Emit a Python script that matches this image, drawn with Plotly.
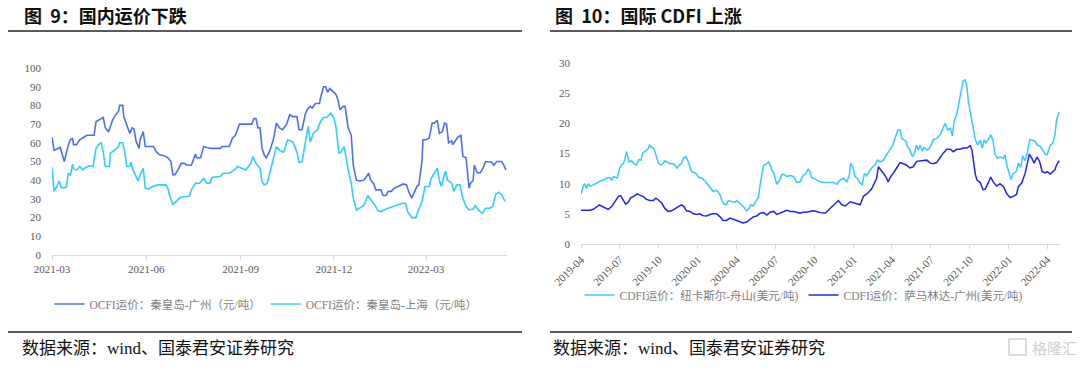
import plotly.graph_objects as go

# ---------------- Left chart: OCFI (元/吨) ----------------
gz_dates = ["2021-03-01","2021-03-03","2021-03-07","2021-03-09","2021-03-13","2021-03-15","2021-03-17","2021-03-19",
            "2021-03-21","2021-03-22","2021-03-25","2021-03-28","2021-03-31","2021-04-04","2021-04-08","2021-04-11",
            "2021-04-13","2021-04-15","2021-04-18","2021-04-20","2021-04-22","2021-04-25","2021-04-26","2021-04-29",
            "2021-05-01","2021-05-05","2021-05-06","2021-05-09","2021-05-10","2021-05-13","2021-05-16","2021-05-18",
            "2021-05-20","2021-05-22","2021-05-25","2021-05-26","2021-05-29","2021-05-31","2021-06-04","2021-06-08",
            "2021-06-11","2021-06-14","2021-06-19","2021-06-22","2021-06-25","2021-06-27","2021-06-29","2021-07-02",
            "2021-07-05","2021-07-08","2021-07-11","2021-07-15","2021-07-19","2021-07-20","2021-07-24","2021-07-27",
            "2021-07-30","2021-08-03","2021-08-12","2021-08-14","2021-08-21","2021-08-24","2021-08-27","2021-08-31",
            "2021-09-04","2021-09-12","2021-09-14","2021-09-16","2021-09-18","2021-09-20","2021-09-22","2021-09-24",
            "2021-09-26","2021-09-29","2021-10-03","2021-10-06","2021-10-09","2021-10-12","2021-10-16","2021-10-19",
            "2021-10-22","2021-10-26","2021-10-28","2021-10-31","2021-11-03","2021-11-05","2021-11-08","2021-11-10",
            "2021-11-13","2021-11-17","2021-11-18","2021-11-21","2021-11-23","2021-11-25","2021-11-27","2021-11-30",
            "2021-12-03","2021-12-05","2021-12-07","2021-12-10","2021-12-12","2021-12-15","2021-12-18","2021-12-20",
            "2021-12-23","2021-12-26","2021-12-30","2022-01-02","2022-01-04","2022-01-06","2022-01-09","2022-01-11",
            "2022-01-16","2022-01-18","2022-01-21","2022-01-23","2022-01-26","2022-01-29","2022-02-03","2022-02-07",
            "2022-02-10","2022-02-12","2022-02-15","2022-02-17","2022-02-20","2022-02-22","2022-02-25","2022-02-26",
            "2022-03-01","2022-03-04","2022-03-07","2022-03-09","2022-03-12","2022-03-14","2022-03-17","2022-03-19",
            "2022-03-21","2022-03-23","2022-03-26","2022-03-27","2022-03-30","2022-04-01","2022-04-04","2022-04-06",
            "2022-04-09","2022-04-12","2022-04-13","2022-04-16","2022-04-17","2022-04-20","2022-04-23","2022-04-26",
            "2022-04-28","2022-05-02","2022-05-04","2022-05-06","2022-05-09","2022-05-12","2022-05-14","2022-05-18"]
gz_values = [63,56,57,57.5,50,55,59,61.6,
             62.5,59,59,61.6,62.5,64,64,64,
             71.4,72,73,73.5,68,66,67,72,
             74,77,80,80,74,70,65,68,
             67.5,61,57,61.6,66,58,58,58,
             55,53.6,53,52,50,43,43,45.5,
             49,49,48,48,54,52,52,58,
             57.5,57,57,58,58,62.5,64,70,
             70,70,73,73,68,68,57,53.6,
             52,55,61.6,70.5,68,67,70,75,
             74,74,67,67,75,77.7,79.5,78.6,
             81,81,84,90,90,87,89,87.5,
             86,83,77.7,79.5,79.5,68,64,48,
             40,39.6,40,42,43.75,40,38,34.8,
             34.8,31.8,31.8,34,34,35.7,37,38,
             37.5,34,30.4,33,36.6,37.5,50,61.6,
             61.6,62.5,70.5,70.5,72,65,66,70.5,
             70,60,61,59,61.6,63,64,52.7,
             52,35.7,38,40,48,44,44,47,
             50,50,49.6,48,50,50,50,45.5]

sh_dates = ["2021-03-01","2021-03-03","2021-03-06","2021-03-08","2021-03-10","2021-03-14","2021-03-15","2021-03-17",
            "2021-03-19","2021-03-21","2021-03-22","2021-03-25","2021-03-28","2021-03-31","2021-04-03","2021-04-06",
            "2021-04-10","2021-04-13","2021-04-16","2021-04-18","2021-04-20","2021-04-22","2021-04-26","2021-04-27",
            "2021-05-01","2021-05-05","2021-05-06","2021-05-09","2021-05-11","2021-05-13","2021-05-16","2021-05-17",
            "2021-05-19","2021-05-22","2021-05-24","2021-05-26","2021-05-29","2021-05-31","2021-06-04","2021-06-07",
            "2021-06-12","2021-06-20","2021-06-22","2021-06-24","2021-06-27","2021-06-30","2021-07-04","2021-07-08",
            "2021-07-13","2021-07-15","2021-07-19","2021-07-23","2021-07-27","2021-07-30","2021-08-02","2021-08-04",
            "2021-08-12","2021-08-15","2021-08-21","2021-08-26","2021-08-29","2021-09-02","2021-09-06","2021-09-11",
            "2021-09-13","2021-09-16","2021-09-20","2021-09-22","2021-09-24","2021-09-27","2021-10-01","2021-10-06",
            "2021-10-09","2021-10-13","2021-10-17","2021-10-22","2021-10-26","2021-10-28","2021-10-31","2021-11-03",
            "2021-11-06","2021-11-08","2021-11-11","2021-11-15","2021-11-18","2021-11-21","2021-11-24","2021-11-28",
            "2021-12-01","2021-12-03","2021-12-06","2021-12-08","2021-12-11","2021-12-12","2021-12-15","2021-12-18",
            "2021-12-20","2021-12-23","2021-12-26","2021-12-30","2022-01-01","2022-01-03","2022-01-07","2022-01-10",
            "2022-01-13","2022-01-16","2022-01-21","2022-01-23","2022-01-26","2022-01-31","2022-02-06","2022-02-09",
            "2022-02-11","2022-02-15","2022-02-19","2022-02-21","2022-02-25","2022-02-28","2022-03-04","2022-03-06",
            "2022-03-09","2022-03-12","2022-03-14","2022-03-16","2022-03-18","2022-03-20","2022-03-22","2022-03-26",
            "2022-03-28","2022-03-31","2022-04-03","2022-04-06","2022-04-09","2022-04-12","2022-04-16","2022-04-18",
            "2022-04-22","2022-04-25","2022-04-28","2022-05-02","2022-05-05","2022-05-08","2022-05-11","2022-05-14",
            "2022-05-17"]
sh_values = [46.8,34,37,39.6,36,36,36.6,43.75,
             42.5,48.6,46,45.5,47.3,45.5,46.8,47.7,
             47.3,57,59.3,60,55,47.3,47.3,54.5,
             56,58,60,60,55,47.3,47.3,49.6,
             45.5,42,39.6,43,46.4,35.7,35.4,36.6,
             37.5,37.5,35.7,31.25,27,28.6,30.7,31.25,
             31.25,34.8,38.4,38.4,41,38.4,38.4,41.4,
             42,43.75,43.75,45.5,47.3,46.4,45.5,49,
             52.7,49,46.4,39.3,37.5,38.4,47.3,58,
             56,55,61.6,60.4,55,49.6,50,60,
             68.75,60.4,65,67,71.4,73.5,73.5,75.9,
             73.2,68.75,54.5,55,58,55,45.5,38.4,
             30.4,24.1,25,26.4,28.6,31.8,28.9,26.8,
             23.6,23.2,24.6,25,25.4,26.8,27.7,27.7,
             23.2,20,20,23.2,28.6,36.6,36.6,41,
             43.75,46.4,40,36.6,41,45,40,38.4,
             34,37.5,37.5,30.4,25.9,24.1,24.6,26.4,
             23.6,22.3,25,25,25.9,32.5,33.6,32.1,
             28.6]

# ---------------- Right chart: CDFI (美元/吨) ----------------
nc_dates = ["2019-04-01","2019-04-06","2019-04-10","2019-04-14","2019-04-18","2019-04-22","2019-04-30","2019-05-07",
            "2019-05-15","2019-05-23","2019-05-31","2019-06-08","2019-06-12","2019-06-17","2019-06-25","2019-07-01",
            "2019-07-05","2019-07-09","2019-07-13","2019-07-17","2019-07-21","2019-07-23","2019-07-29","2019-08-03",
            "2019-08-09","2019-08-15","2019-08-20","2019-08-24","2019-08-29","2019-09-02","2019-09-06","2019-09-09",
            "2019-09-14","2019-09-19","2019-09-26","2019-09-30","2019-10-05","2019-10-11","2019-10-15","2019-10-21",
            "2019-10-27","2019-11-04","2019-11-08","2019-11-13","2019-11-18","2019-11-23","2019-11-27","2019-12-03",
            "2019-12-07","2019-12-13","2019-12-17","2019-12-21","2019-12-27","2020-01-02","2020-01-10","2020-01-18",
            "2020-01-26","2020-01-31","2020-02-06","2020-02-14","2020-02-18","2020-02-22","2020-02-26","2020-03-02",
            "2020-03-08","2020-03-12","2020-03-20","2020-03-28","2020-04-01","2020-04-06","2020-04-12","2020-04-18",
            "2020-04-24","2020-04-30","2020-05-04","2020-05-10","2020-05-16","2020-05-22","2020-05-26","2020-05-30",
            "2020-06-03","2020-06-08","2020-06-15","2020-06-19","2020-06-23","2020-06-27","2020-06-30","2020-07-04",
            "2020-07-10","2020-07-16","2020-07-21","2020-07-28","2020-08-03","2020-08-08","2020-08-14","2020-08-20",
            "2020-08-28","2020-09-04","2020-09-10","2020-09-16","2020-09-20","2020-09-24","2020-10-02","2020-10-10",
            "2020-10-14","2020-10-22","2020-10-30","2020-11-06","2020-11-14","2020-11-22","2020-11-30","2020-12-08",
            "2020-12-16","2020-12-22","2020-12-25","2020-12-31","2021-01-04","2021-01-09","2021-01-16","2021-01-21",
            "2021-01-26","2021-01-31","2021-02-07","2021-02-12","2021-02-20","2021-02-26","2021-03-04","2021-03-12",
            "2021-03-20","2021-03-28","2021-04-03","2021-04-08","2021-04-15","2021-04-20","2021-04-24","2021-04-30",
            "2021-05-04","2021-05-07","2021-05-13","2021-05-19","2021-05-24","2021-05-29","2021-06-02","2021-06-06",
            "2021-06-11","2021-06-15","2021-06-22","2021-06-26","2021-07-01","2021-07-07","2021-07-15","2021-07-23",
            "2021-07-29","2021-08-04","2021-08-10","2021-08-16","2021-08-21","2021-08-25","2021-08-31","2021-09-06",
            "2021-09-10","2021-09-15","2021-09-20","2021-09-24","2021-09-28","2021-10-02","2021-10-06","2021-10-10",
            "2021-10-14","2021-10-19","2021-10-26","2021-10-30","2021-11-04","2021-11-08","2021-11-14","2021-11-19",
            "2021-11-24","2021-11-29","2021-12-05","2021-12-11","2021-12-19","2021-12-23","2021-12-27","2022-01-02",
            "2022-01-06","2022-01-11","2022-01-18","2022-01-23","2022-01-29","2022-02-02","2022-02-08","2022-02-13",
            "2022-02-19","2022-02-25","2022-03-03","2022-03-09","2022-03-15","2022-03-21","2022-03-27","2022-04-01",
            "2022-04-08","2022-04-14","2022-04-19","2022-04-23","2022-04-29"]
nc_values = [8.3,9.5,10,9.2,10,9.6,9.8,10.1,
             10.4,10.6,10.9,11,10.6,11.2,10.9,12.6,
             13.1,13.3,14,15.3,14.4,13.6,13.8,13.3,
             13.1,14,13.9,15.1,15.3,15.5,15.8,16.4,
             16,15.9,14.5,13.4,13.1,13.3,13.8,13.5,
             13.3,13.3,12.9,12.6,13.1,13.3,14.1,14.5,
             14,12.6,12,11.9,11.7,11.1,10.9,10.4,
             9.7,9.2,8.7,8.9,8.6,8.1,7.2,6.6,
             6.5,7.2,7.1,6.9,7.2,6.9,6.5,6.1,
             5.5,5.9,6.5,6.3,7.1,7.7,9.8,11.7,
             13,13.2,13.6,13,12.2,11.8,11,9.9,
             10.4,11.5,11.5,11.2,11.3,11.3,11.1,10.2,
             10.3,11.4,11.6,12.4,12.1,11,10.8,10.4,
             10.3,10.2,10.2,10.1,10.2,9.9,10.6,10.9,
             10.3,11.5,13.4,12.6,11.2,10.9,10.1,9.8,
             11.7,11.3,12,12.6,13.1,13.9,13.6,13.9,
             14.9,15.7,16.4,17.5,18.9,18.9,17.5,17.2,
             17,16.2,15.6,14.5,15.1,16.4,15.6,16.4,
             15.4,16,15.6,15.7,16.2,17.3,17.5,18.1,
             19,20,18.9,19.2,17.9,20.3,21.4,23.4,
             25,27,27.2,26.1,23.4,22,20.6,18.9,
             17.3,16.4,17.2,15.9,17.3,16.7,17.5,18.1,
             17.3,14.9,14.2,14.4,14.2,14.8,13,11.7,
             10.7,11.7,12,13.4,12.7,14.6,13.8,15.1,
             17.3,17.2,17,16.4,16.2,15.6,14.9,14.8,
             16.4,16.7,18.1,20.6,21.9]

sm_dates = ["2019-04-01","2019-04-14","2019-04-22","2019-04-30","2019-05-07","2019-05-14","2019-05-19","2019-05-27",
            "2019-06-04","2019-06-12","2019-06-20","2019-06-28","2019-07-03","2019-07-09","2019-07-15","2019-07-21",
            "2019-07-26","2019-08-03","2019-08-11","2019-08-17","2019-08-25","2019-09-02","2019-09-10","2019-09-18",
            "2019-09-24","2019-09-30","2019-10-08","2019-10-15","2019-10-23","2019-10-31","2019-11-08","2019-11-16",
            "2019-11-23","2019-11-29","2019-12-05","2019-12-13","2019-12-21","2019-12-29","2020-01-05","2020-01-13",
            "2020-01-21","2020-01-29","2020-02-06","2020-02-14","2020-02-22","2020-02-29","2020-03-08","2020-03-16",
            "2020-03-24","2020-04-01","2020-04-08","2020-04-16","2020-04-24","2020-05-02","2020-05-10","2020-05-18",
            "2020-05-26","2020-06-03","2020-06-11","2020-06-19","2020-06-27","2020-07-04","2020-07-12","2020-07-20",
            "2020-07-28","2020-08-05","2020-08-13","2020-08-20","2020-08-28","2020-09-04","2020-09-12","2020-09-20",
            "2020-09-28","2020-10-06","2020-10-14","2020-10-26","2020-11-03","2020-11-14","2020-11-26","2020-12-04",
            "2020-12-12","2020-12-24","2021-01-04","2021-01-16","2021-01-24","2021-02-04","2021-02-12","2021-02-20",
            "2021-02-24","2021-02-28","2021-03-05","2021-03-12","2021-03-18","2021-03-23","2021-03-29","2021-04-04",
            "2021-04-12","2021-04-20","2021-04-28","2021-05-05","2021-05-13","2021-05-21","2021-05-29","2021-06-06",
            "2021-06-14","2021-06-22","2021-06-30","2021-07-07","2021-07-15","2021-07-23","2021-07-31","2021-08-08",
            "2021-08-16","2021-08-23","2021-08-31","2021-09-08","2021-09-16","2021-09-24","2021-10-02","2021-10-06",
            "2021-10-10","2021-10-14","2021-10-18","2021-10-26","2021-11-01","2021-11-06","2021-11-14","2021-11-19",
            "2021-11-25","2021-12-03","2021-12-11","2021-12-19","2021-12-27","2022-01-04","2022-01-11","2022-01-19",
            "2022-01-23","2022-01-31","2022-02-08","2022-02-13","2022-02-18","2022-02-24","2022-03-01","2022-03-08",
            "2022-03-14","2022-03-20","2022-03-27","2022-04-01","2022-04-08","2022-04-14","2022-04-19","2022-04-23",
            "2022-04-29"]
sm_values = [5.6,5.6,5.6,5.75,6.1,6.5,6.3,6,
             5.75,6.2,7,7.9,8,7.3,6.6,6.9,
             7.6,7.9,8.3,8.1,7.9,7.4,7.2,7.2,
             7.6,7.3,6.75,5.9,5.4,5.5,5.9,6.2,
             6.5,6.2,5.5,5.4,5,4.9,5,4.7,
             4.65,4.9,5,5,4.5,3.9,3.9,4.3,
             4.1,3.9,3.7,3.5,3.65,4.1,4.5,4.65,
             5.1,5.2,4.8,5.3,5.4,4.9,5.1,5.3,
             5.6,5.4,5.4,5.25,5.1,5.25,5.25,5.4,
             5.5,5.4,5.2,5.1,5.6,6.3,7.2,6.5,
             6.3,7,6.75,6.5,7.9,8.5,9.1,10.3,
             10.9,12.8,12.4,11.7,11.1,10.3,11.2,11.7,
             12.6,13.5,13.3,13.1,12.6,12.8,13.7,13.8,
             13.9,13.9,13.4,13.3,13.5,14.4,15.1,15.7,
             15.7,15.3,15.7,15.7,15.9,15.9,16.3,15.6,
             13.1,11.5,10.6,10.1,9,9.1,10.2,11.1,
             10.3,9.6,10,9.5,8.3,7.7,7.9,8.2,
             9.5,10.1,11.7,13.1,14.9,14.2,13.4,14.4,
             13.7,12,11.8,12,11.6,12,12.3,13.1,
             13.8]

names_left = ["OCFI运价：秦皇岛-广州（元/吨）", "OCFI运价：秦皇岛-上海（元/吨）"]
names_right = ["CDFI运价：纽卡斯尔-舟山(美元/吨)", "CDFI运价：萨马林达-广州(美元/吨)"]

W, H = 1080, 370
TICK_FONT = dict(family="Liberation Serif, Noto Sans CJK SC", size=11, color="#595959")
LEG_FONT = dict(family="Liberation Serif, Noto Sans CJK SC", size=11.5, color="#7f7f7f")

fig = go.Figure()
fig.add_trace(go.Scatter(x=gz_dates, y=gz_values, mode="lines", name=names_left[0],
                         line=dict(color="#4f6ff3", width=1.6), xaxis="x", yaxis="y", legend="legend"))
fig.add_trace(go.Scatter(x=sh_dates, y=sh_values, mode="lines", name=names_left[1],
                         line=dict(color="#2fd0ff", width=1.6), xaxis="x", yaxis="y", legend="legend"))
fig.add_trace(go.Scatter(x=nc_dates, y=nc_values, mode="lines", name=names_right[0],
                         line=dict(color="#33ccff", width=1.5), xaxis="x2", yaxis="y2", legend="legend2"))
fig.add_trace(go.Scatter(x=sm_dates, y=sm_values, mode="lines", name=names_right[1],
                         line=dict(color="#2424ee", width=1.5), xaxis="x2", yaxis="y2", legend="legend2"))

def px(x):
    return x / W

def py(y):
    return 1 - y / H

axis_common = dict(showgrid=False, zeroline=False, tickfont=TICK_FONT, automargin=False)

fig.update_layout(
    width=W, height=H,
    margin=dict(l=0, r=0, t=0, b=0, pad=0, autoexpand=False),
    paper_bgcolor="white", plot_bgcolor="white",
    xaxis=dict(domain=[px(52), px(507)], type="date", range=["2021-03-01", "2022-05-19"],
               tick0="2021-03-01", dtick="M3", tickformat="%Y-%m", showline=True, linecolor="#d9d9d9",
               linewidth=1, ticks="outside", ticklen=4, tickcolor="#d9d9d9", anchor="y", **axis_common),
    yaxis=dict(domain=[py(255), py(68)], range=[0, 100], dtick=10, showline=False, ticks="",
               ticklabelstandoff=10, anchor="x", **axis_common),
    xaxis2=dict(domain=[px(581), px(1060)], type="date", range=["2019-04-01", "2022-05-01"],
                tick0="2019-04-01", dtick="M3", tickformat="%Y-%m", tickangle=-45, showline=True,
                linecolor="#d9d9d9", linewidth=1, ticks="outside", ticklen=4, tickcolor="#d9d9d9",
                anchor="y2", **axis_common),
    yaxis2=dict(domain=[py(244), py(63)], range=[0, 30], dtick=5, showline=False, ticks="",
                ticklabelstandoff=10, anchor="x2", **axis_common),
    legend=dict(orientation="h", x=px(266), y=py(304), xanchor="center", yanchor="middle",
                font=LEG_FONT, bgcolor="rgba(0,0,0,0)", itemwidth=30, tracegroupgap=0),
    legend2=dict(orientation="h", x=px(804), y=py(295), xanchor="center", yanchor="middle",
                 font=LEG_FONT, bgcolor="rgba(0,0,0,0)", itemwidth=30, tracegroupgap=0),
    showlegend=True,
)

TITLE_FONT = dict(family="Noto Sans CJK SC", size=18, color="#111111", weight="bold")
SRC_FONT = dict(family="Liberation Serif, Noto Sans CJK SC", size=17, color="#111111")

annotations = [
    dict(text="图  9：国内运价下跌", x=px(22), y=py(15), xref="paper", yref="paper",
         xanchor="left", yanchor="middle", showarrow=False, font=TITLE_FONT),
    dict(text="图  10：国际 CDFI 上涨", x=px(553), y=py(15), xref="paper", yref="paper",
         xanchor="left", yanchor="middle", showarrow=False, font=TITLE_FONT),
    dict(text="数据来源：wind、国泰君安证券研究", x=px(20), y=py(348), xref="paper", yref="paper",
         xanchor="left", yanchor="middle", showarrow=False, font=SRC_FONT),
    dict(text="数据来源：wind、国泰君安证券研究", x=px(551), y=py(348), xref="paper", yref="paper",
         xanchor="left", yanchor="middle", showarrow=False, font=SRC_FONT),
    dict(text="格隆汇", x=px(1030), y=py(347), xref="paper", yref="paper",
         xanchor="left", yanchor="middle", showarrow=False,
         font=dict(family="Noto Sans CJK SC", size=15, color="#cfcfcf")),
]

shapes = []
for (x0, x1) in [(8, 522), (550, 1072)]:
    for yy in (31, 332):
        shapes.append(dict(type="line", xref="paper", yref="paper", x0=px(x0), x1=px(x1),
                           y0=py(yy), y1=py(yy), line=dict(color="#5a5a5a", width=2)))
shapes.append(dict(type="rect", xref="paper", yref="paper", x0=px(1009), x1=px(1026),
                   y0=py(355), y1=py(339), line=dict(color="#cfcfcf", width=1.5)))

fig.update_layout(annotations=annotations, shapes=shapes)

fig.write_html("out.html", config={"displayModeBar": False},
               post_script="document.body.style.margin='0';")
